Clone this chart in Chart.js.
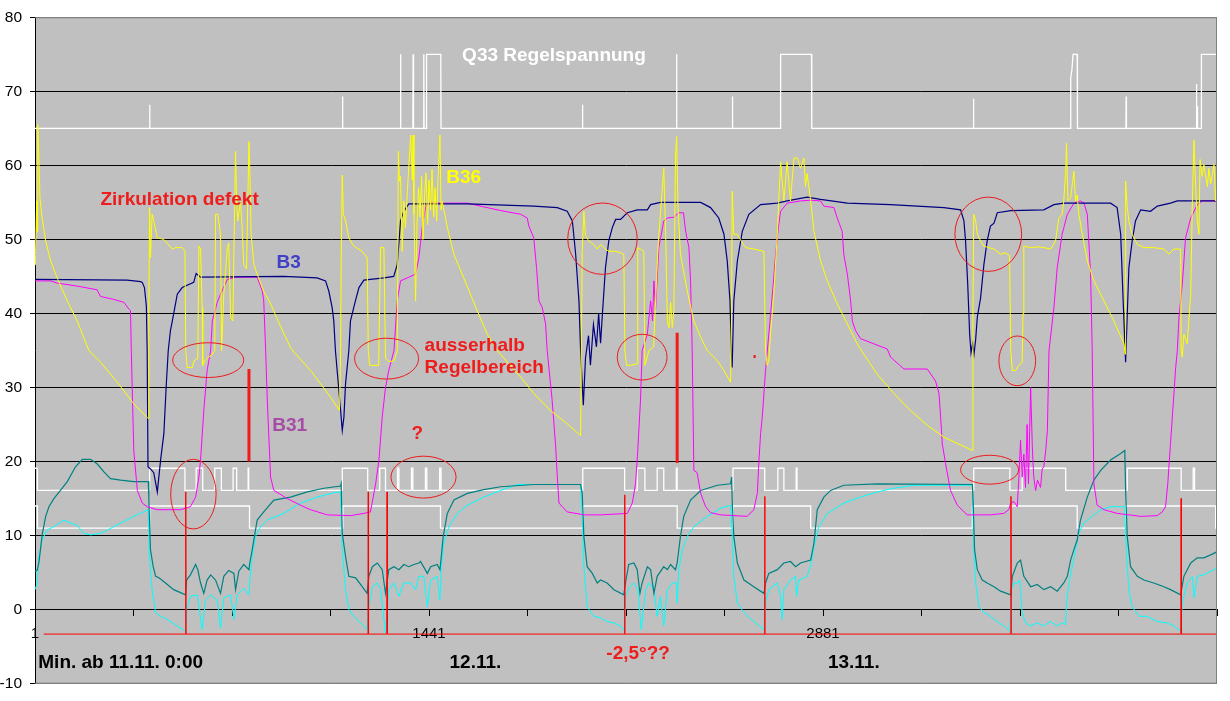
<!DOCTYPE html>
<html>
<head>
<meta charset="utf-8">
<script src="https://cdn.jsdelivr.net/npm/chart.js@4.4.1/dist/chart.umd.min.js"></script>
<style>
html,body{margin:0;padding:0;background:#fff;}
#wrap{width:1230px;height:701px;position:relative;}
</style>
</head>
<body>
<div id="wrap"><canvas id="c"></canvas></div>
<script>
// ---------- DATA (x = minutes since 11.11. 0:00, y = °C / V) ----------
const xTickValues = [1,361,721,1081,1441,1801,2161,2521,2881,3241,3601,3961,4321];
const xTickLabels = ['1','','','','1441','','','','2881','','','',''];

const q33 = [[1,65],[419,65],[420,68.2],[421,65],[1124,65],[1125,69.3],[1126,65],[1336,65],[1337,75],[1338,65],
 [1382,65],[1383,75],[1384,71],[1385,65],[1421,65],[1422,75],[1423,65],[1431,65],[1432,75],[1484,75],[1485,65],
 [2001,65],[2002,68.2],[2003,65],[2345,65],[2346,75],[2347,65],[2549,65],[2550,69.3],[2551,65],[2725,65],[2726,75],
 [2839,75],[2840,65],[3430,65],[3431,69],[3432,65],[3785,65],[3786,70],[3787,71.8],[3791,73],[3795,75],[3810,75],
 [3811,65],[3988,65],[3989,69.3],[3990,65],[4245,65],[4246,71],[4247,65],[4249,68],[4250,65],[4263,65],[4264,75],[4321,75]];

const whiteUpper = [[1,19.1],[10,16.1],[420,19.1],[549,16.1],[590,19.1],[614,16.1],[658,19.1],[682,16.1],[725,19.1],
 [738,16.1],[780,19.1],[782,16.1],[1124,19.1],[1217,16.1],[1261,19.1],[1282,16.1],[1326,19.1],[1331,16.1],[1377,19.1],
 [1382,16.1],[1428,19.1],[1433,16.1],[1480,19.1],[1485,16.1],[2003,19.1],[2156,16.1],[2202,19.1],[2230,16.1],[2275,19.1],
 [2299,16.1],[2345,19.1],[2348,16.1],[2552,19.1],[2668,16.1],[2716,19.1],[2738,16.1],[2783,19.1],[2786,16.1],[3432,19.1],
 [3564,16.1],[3609,19.1],[3768,16.1],[3993,19.1],[4190,16.1],[4234,19.1],[4239,16.1],[4321,16.1]];

const whiteLower = [[1,14],[10,11],[420,14],[785,11],[1126,14],[1483,11],[2003,14],[2348,11],[2552,14],[2836,11],
 [3427,14],[3810,11],[3987,14],[4316,11],[4321,11]];

const b3 = [[1,44.6],[338,44.5],[387,44.3],[393,44.2],[401,43.5],[408,41],[411,35],[414,19.3],[423,19],[435,18.5],[448,15.9],
 [460,20.2],[472,23.8],[481,30.5],[488,35],[496,37.7],[503,39],[521,42.6],[539,43.5],[581,44.2],[590,45.4],[606,44.9],
 [910,45],[1032,44.8],[1063,44.4],[1075,43],[1087,40.8],[1093,39],[1099,35],[1106,32],[1118,26.9],[1124,24.2],[1130,26],
 [1136,30.5],[1148,35],[1154,39],[1172,41.7],[1185,43.5],[1203,44.5],[1276,44.8],[1312,45],[1325,46.6],[1337,52.5],
 [1349,53.8],[1367,54.8],[1581,54.8],[1824,54.5],[1910,54.3],[1946,53.8],[1965,52.5],[1977,48],[1989,41.7],[1995,35],
 [2005,27.6],[2013,34],[2024,37],[2031,33],[2042,38.5],[2053,35.5],[2061,40],[2068,36],[2074,39.5],[2086,46.2],[2098,49.8],
 [2111,51.6],[2123,52.7],[2141,52.7],[2166,53.6],[2202,54],[2239,54],[2251,54.7],[2287,55],[2434,55],[2470,54.3],
 [2500,52.9],[2519,50.7],[2531,47.1],[2541,41.7],[2546,35],[2549,32.7],[2555,41.7],[2568,47.1],[2586,51.1],[2610,53.4],
 [2653,54.7],[2714,54.9],[2750,55.2],[2823,55.7],[2872,55.4],[2970,54.9],[3128,54.7],[3323,54.3],[3384,54],[3396,52.5],
 [3402,49.8],[3410,43.9],[3417,37.2],[3422,34.7],[3428,36],[3433,34.5],[3439,36.5],[3445,39.5],[3457,42.1],[3469,46.6],
 [3481,49.8],[3493,51.8],[3506,52.2],[3518,53.6],[3567,53.9],[3688,54],[3725,54.7],[3761,54.9],[3932,54.9],[3956,54.3],
 [3969,50.7],[3978,41.7],[3987,33.4],[3999,46.2],[4011,49.8],[4023,52.5],[4042,54],[4078,53.8],[4103,54.5],[4151,54.9],
 [4176,55.2],[4320,55.2]];

const b31 = [[1,44.4],[58,44.4],[82,44.1],[155,43.7],[228,43.2],[240,42.3],[289,41.9],[326,41.5],[344,40.6],[350,40.4],
 [353,35],[362,21.5],[375,16.1],[393,14.4],[411,13.9],[448,13.5],[533,13.5],[569,13.9],[588,15.2],[600,17.9],[606,20.2],
 [618,26.9],[630,32.3],[643,35],[649,39],[667,41.5],[679,42.6],[704,44.6],[734,44.9],[813,44.9],[832,43],[837,41.7],
 [844,35],[850,28.3],[862,17.9],[874,16.1],[923,15],[972,14.1],[1008,13.5],[1069,12.8],[1154,12.7],[1203,13],[1227,13.2],
 [1246,17],[1258,20.2],[1270,26],[1282,30],[1294,32.3],[1313,35],[1325,41.7],[1337,44.4],[1367,44.9],[1392,45.3],
 [1404,47.5],[1416,51.6],[1428,54.3],[1435,54.9],[1581,54.9],[1641,54.4],[1703,53.9],[1776,53.4],[1800,52.9],[1806,51.8],
 [1824,50.2],[1834,46.2],[1843,41.7],[1855,40.8],[1867,38.6],[1873,35],[1891,28.3],[1904,22],[1910,17.9],[1916,14.4],
 [1946,13.2],[2007,12.8],[2068,12.8],[2166,13],[2184,14.4],[2196,17],[2204,21.5],[2214,28.3],[2220,35],[2239,37.2],
 [2251,41.7],[2258,39],[2263,44.4],[2269,40.5],[2281,48.9],[2299,52.5],[2312,52.9],[2336,53],[2354,53.6],[2371,53.6],
 [2379,51.1],[2391,48.9],[2397,44.4],[2403,35],[2409,18.8],[2421,18.5],[2434,15.7],[2452,13.9],[2470,13.1],[2507,12.8],
 [2604,12.6],[2628,13.5],[2641,15.7],[2647,20.2],[2653,23.8],[2659,26],[2671,32.3],[2683,37.2],[2696,42.6],[2708,48],
 [2718,51.6],[2726,53.8],[2750,54.9],[2799,55.2],[2836,55.3],[2872,55.2],[2884,54.5],[2921,54.3],[2933,52.9],[2951,51.1],
 [2957,48],[2970,45.3],[2982,41.7],[2988,39],[3000,37.7],[3018,36.6],[3067,35.9],[3116,35.2],[3128,34.1],[3177,32.5],
 [3262,32.5],[3292,30.9],[3305,29.2],[3311,26],[3317,22.4],[3329,19.7],[3347,16.1],[3372,14.1],[3408,12.8],[3493,12.8],
 [3542,13],[3560,13.5],[3567,14.4],[3579,14.6],[3591,13.9],[3597,17.9],[3603,22.9],[3609,17.9],[3615,21],[3621,16.5],
 [3627,25],[3632,17],[3640,30],[3646,22],[3651,18],[3658,16.1],[3665,17.5],[3676,16.5],[3682,19],[3688,19.3],[3695,21.5],
 [3701,24.2],[3707,35],[3725,40.8],[3737,46.2],[3755,50.7],[3774,53.4],[3798,54.9],[3822,55.2],[3835,54.9],[3847,53.4],
 [3859,45.3],[3865,35],[3871,17],[3883,14.1],[3908,13.5],[3956,13],[4042,12.6],[4103,12.7],[4121,13.2],[4133,13.9],
 [4141,17],[4151,22.4],[4161,27.8],[4170,32.7],[4176,35],[4182,39.5],[4194,43.9],[4206,50.2],[4225,52.9],[4249,54.7],
 [4267,55.2],[4320,55.2]];

const b36 = [[1,46.6],[3,48],[7,55.2],[9,51],[11,65.5],[15,61.4],[19,55.6],[27,52.9],[40,49.8],[58,47.1],[82,44.8],
 [119,41.7],[155,39],[198,35],[241,33.4],[302,30.7],[362,27.8],[415,25.8],[417,40],[420,54.3],[423,47.5],[429,53.4],
 [435,52.5],[448,50.2],[472,50],[503,48.7],[515,48.9],[539,48.9],[549,48.4],[552,35],[557,32.7],[576,32.7],[582,33.6],
 [596,33.9],[600,49.1],[606,48.7],[612,40.8],[614,33],[621,33.6],[635,34.1],[650,34.5],[658,35],[661,53.4],[669,53.4],
 [679,50.7],[683,35],[691,42.6],[704,48.9],[709,49.5],[716,39.5],[724,39],[734,61.9],[738,55.2],[742,52.5],[752,55.2],
 [758,51.6],[764,46.6],[774,46],[783,63.2],[786,59.6],[791,50.7],[801,46.6],[813,45.3],[837,43],[862,41.3],[898,38.3],
 [935,35.4],[947,34.8],[1008,32.3],[1081,28.7],[1114,26.9],[1118,35],[1120,47.1],[1124,58.7],[1128,53.4],[1136,52.5],
 [1148,50.2],[1166,49.1],[1197,48.4],[1215,47.5],[1219,35],[1224,33],[1257,33],[1264,48.9],[1276,48.9],[1282,34],
 [1294,33.5],[1313,33.6],[1325,35],[1329,61.9],[1333,57.9],[1337,58.5],[1343,48.4],[1349,55.2],[1355,51.6],[1362,56.5],
 [1374,64.1],[1380,58],[1383,64.1],[1386,53.4],[1392,41.7],[1397,52],[1403,57],[1408,53],[1414,58.5],[1419,50],
 [1425,56],[1430,59],[1436,52],[1441,58],[1447,54],[1452,59.5],[1458,53],[1463,57],[1469,52.5],[1474,58],[1481,64.1],
 [1485,54],[1489,55.2],[1508,51.6],[1532,48],[1568,44.8],[1617,40.4],[1654,37.2],[1690,35],[1776,31.4],[1824,29.2],
 [1885,26.9],[1946,25.1],[1995,23.5],[2001,48.4],[2007,53.8],[2013,50.5],[2025,49.8],[2043,49.3],[2056,48.7],[2068,49.3],
 [2080,48.9],[2098,48.4],[2123,48.4],[2141,48.2],[2153,48],[2157,35],[2163,33],[2178,33],[2202,33.2],[2204,48.9],
 [2214,48.7],[2226,48.4],[2230,33],[2245,35],[2262,35.5],[2275,46.6],[2281,50.7],[2294,57],[2299,59.6],[2306,50.7],
 [2312,39],[2318,38.1],[2324,41.5],[2330,38.1],[2336,40.5],[2342,61.4],[2346,63.9],[2351,54.3],[2360,48],[2385,43],
 [2409,39],[2434,36.8],[2458,35],[2495,33.6],[2519,32.3],[2543,30.7],[2547,40],[2549,56.5],[2555,50.7],[2568,50.7],
 [2580,49.9],[2598,48.9],[2628,48.7],[2665,48.4],[2671,35],[2677,33],[2683,33.6],[2689,37.2],[2701,42.6],[2714,50.7],
 [2726,60.5],[2738,55.2],[2750,60.5],[2762,55.2],[2775,61],[2787,61],[2799,59.6],[2811,61],[2817,57.1],[2823,58.9],
 [2836,55.2],[2848,51.1],[2872,47.1],[2897,44.4],[2933,41.3],[2970,38.6],[3006,35.9],[3030,34.5],[3079,31.8],[3140,29.2],
 [3201,26.9],[3262,24.9],[3323,23.3],[3427,21.5],[3429,40],[3432,53.4],[3439,52.5],[3445,50.7],[3457,49.8],[3469,49.1],
 [3487,48.9],[3506,48.7],[3530,48],[3548,48.2],[3563,47.8],[3567,35],[3573,32.3],[3585,32.3],[3597,33],[3609,33.4],
 [3612,40],[3615,49.1],[3640,48.9],[3664,49],[3688,48.9],[3713,48.7],[3731,49.8],[3743,52.9],[3755,53.4],[3761,55.2],
 [3768,59.2],[3771,63],[3776,55.2],[3786,55.6],[3798,59.2],[3804,55.2],[3810,56],[3816,53.4],[3829,50.7],[3847,47.1],
 [3871,44.4],[3908,41.7],[3944,39],[3981,35.9],[3985,34.5],[3987,57.9],[3993,54.3],[3999,52.5],[4011,50.7],[4030,49.3],
 [4054,48.9],[4090,48.9],[4127,48.7],[4145,48],[4163,48.7],[4188,48.7],[4190,35],[4194,34.1],[4200,37.2],[4212,35.9],
 [4225,42.6],[4231,55.2],[4237,63.4],[4243,57.1],[4249,52.5],[4255,50.7],[4259,60.8],[4267,58.5],[4273,60.1],[4286,57.1],
 [4291,59.6],[4298,57.5],[4310,60.1],[4316,55.2],[4320,57.9]];

const tealSeries = [[1,5.2],[9,5.3],[15,6.3],[21,8.1],[27,10.1],[40,12.6],[52,13.9],[70,15],[94,16.1],[119,17.3],[149,19.3],
 [174,20.3],[204,20.3],[228,19.7],[253,18.6],[277,17.7],[314,17.5],[362,17.3],[415,17.3],[417,15],[423,8.1],[433,5.8],
 [442,4.5],[454,4.3],[478,3.6],[508,2.7],[551,2],[555,4],[569,4.7],[588,6.1],[596,5.4],[606,3.6],[618,2.2],[630,4],
 [643,4.7],[661,4],[679,2.2],[691,4.5],[709,5.3],[728,4.9],[734,2.7],[746,5.2],[764,6.1],[783,5.4],[786,6.3],[795,8.1],
 [803,9.9],[813,12.1],[837,13.2],[874,14.8],[935,15.2],[996,15.9],[1057,16.4],[1118,16.7],[1120,17],[1124,10.3],
 [1136,7.2],[1148,4.5],[1173,4.3],[1197,3.1],[1215,2.2],[1221,4.5],[1234,5.8],[1252,6.3],[1270,5.4],[1282,2.2],[1294,5.4],
 [1313,5.8],[1331,5.4],[1349,6.1],[1367,5.8],[1386,6.1],[1404,6.3],[1410,6.5],[1435,4.9],[1447,5.8],[1471,6.1],[1481,5.4],
 [1486,7.2],[1493,9.9],[1508,13],[1532,14.8],[1581,15.7],[1641,16.2],[1703,16.6],[1824,16.9],[1995,16.9],[2001,15.7],
 [2007,9.9],[2019,5.8],[2038,4.9],[2056,3.6],[2068,4],[2092,3.6],[2117,2.7],[2153,2],[2159,3.6],[2171,6.1],[2190,6.3],
 [2202,5.4],[2212,2.2],[2220,3.6],[2239,5.8],[2251,5.4],[2263,2.2],[2275,4.5],[2299,5.8],[2312,5.4],[2324,6.1],[2342,5.4],
 [2348,6.3],[2360,9.9],[2372,12.6],[2397,14.8],[2434,16.1],[2495,16.8],[2543,17],[2547,17.9],[2549,14.8],[2555,9.9],
 [2568,6.3],[2592,4],[2628,3.1],[2665,2.2],[2671,3.6],[2683,4.9],[2714,5.4],[2738,6.3],[2762,6.5],[2781,5.8],[2799,6.3],
 [2836,6.7],[2848,9],[2860,13.5],[2884,15.2],[2909,16.1],[2957,16.8],[3079,17],[3427,16.9],[3430,14.3],[3435,8.1],
 [3445,5.4],[3463,4],[3481,3.6],[3506,3.1],[3530,2.5],[3567,2],[3573,4.5],[3591,6.3],[3603,6.7],[3615,4.5],[3640,3.1],
 [3664,3.4],[3688,2.7],[3713,3.1],[3737,2.5],[3761,3.6],[3774,4.5],[3786,6.7],[3798,8.1],[3810,9.4],[3822,12.1],
 [3847,15.2],[3871,17.5],[3896,18.8],[3932,20.2],[3969,21.1],[3984,21.5],[3987,16.1],[3993,9.9],[4005,5.8],[4030,4.5],
 [4054,4],[4090,3.6],[4127,3.1],[4151,2.7],[4188,2],[4200,4.5],[4225,6.3],[4249,7],[4273,7],[4298,7.4],[4320,7.8]];

const cyanSeries = [[1,2.7],[9,3.6],[15,7.2],[27,9.4],[46,10.8],[70,11.2],[106,12.1],[131,11.7],[155,11.4],[179,10.3],
 [204,10.1],[240,10.3],[289,11.2],[362,12.6],[415,13.5],[418,8],[429,2.7],[442,-0.4],[460,-0.9],[484,-1.3],[521,-2.2],
 [551,-2.9],[555,0],[569,1.8],[594,2],[612,-2.7],[624,1.3],[643,2],[667,1.3],[679,-2.5],[691,1.6],[716,2],[728,-1.3],
 [740,2],[764,2.9],[783,2],[786,4],[795,7.2],[807,9.9],[825,11.2],[850,12.1],[910,13],[972,14.4],[1032,15.2],[1093,15.8],
 [1118,15.9],[1124,8.1],[1136,2.7],[1148,0],[1166,-0.9],[1191,-1.8],[1215,-2.7],[1221,0.4],[1234,3.1],[1252,3.6],
 [1264,2.7],[1282,-3.1],[1294,2.7],[1313,3.6],[1331,1.8],[1349,3.6],[1374,3.6],[1392,2.7],[1404,4.5],[1422,4.5],
 [1435,0.4],[1447,4],[1471,4.5],[1481,1.3],[1486,5.8],[1495,9],[1514,11.2],[1544,13],[1581,14.1],[1641,15.2],[1703,16.1],
 [1764,16.9],[1995,16.9],[2001,12.6],[2007,5.8],[2019,0.4],[2043,-0.9],[2068,-1.1],[2092,-1.6],[2117,-1.8],[2141,-2.2],
 [2156,-2.9],[2159,1.8],[2171,2.9],[2190,3.6],[2204,2.7],[2217,-2.7],[2233,2.7],[2245,3.6],[2263,2.7],[2275,-0.9],
 [2287,1.8],[2299,-2.2],[2312,2.7],[2330,3.6],[2346,3.6],[2348,0.9],[2354,5.4],[2367,8.1],[2385,9.9],[2409,11.2],
 [2458,12.6],[2507,13.7],[2543,14.1],[2549,10.3],[2555,4.5],[2568,0.9],[2592,-0.4],[2628,-1.6],[2665,-2.7],[2671,0.9],
 [2683,2.7],[2714,3.6],[2726,1.8],[2732,-1.3],[2738,2.7],[2762,4],[2781,4.5],[2784,1.8],[2793,4],[2823,4.5],[2838,6.3],
 [2848,8.5],[2866,11.2],[2897,13],[2957,14.4],[3018,15.2],[3079,15.9],[3140,16.4],[3213,16.8],[3427,16.8],[3432,8.1],
 [3439,3.6],[3451,0.4],[3469,-0.4],[3493,-0.9],[3518,-1.6],[3542,-2.2],[3564,-2.9],[3569,2.7],[3579,3.6],[3593,3.6],
 [3600,4],[3609,-0.4],[3621,-1.8],[3640,-2.2],[3664,-1.8],[3688,-2.2],[3713,-1.6],[3737,-2.2],[3755,-1.8],[3768,-2],
 [3771,0.9],[3780,3.6],[3792,5.8],[3804,8.1],[3816,10.3],[3834,11.7],[3871,12.8],[3896,13.5],[3932,13.9],[3984,13.9],
 [3987,10.3],[3993,5.8],[3999,2.7],[4011,0.4],[4036,-0.9],[4066,-0.9],[4103,-1.6],[4139,-1.8],[4163,-2.2],[4188,-2.9],
 [4194,0.9],[4212,3.6],[4231,4.5],[4237,1.6],[4249,4.5],[4273,4.7],[4298,5.2],[4320,5.6]];

const valveSignal = [[33,-3.3],[551,-3.3],[552,15.9],[553,-3.3],[1218,-3.3],[1219,15.9],[1220,-3.3],[1287,-3.3],
 [1288,15.9],[1289,-3.3],[2155,-3.3],[2156,15.5],[2157,-3.3],[2667,-3.3],[2668,15.3],[2669,-3.3],[3567,-3.3],
 [3568,15.3],[3569,-3.3],[4189,-3.3],[4190,15.0],[4191,-3.3],[4321,-3.3]];

// annotation marks (data units)
const markBar1 = [[783,32.5],[783,20]];
const markBar2 = [[2348,37.4],[2348,19.8]];
const markDot = [[2627,34.2],[2635,34.2]];
// ellipses: [centre minute, centre value, radius minutes, radius value]
const ellipses = [[634,33.7,130,2.35],[1286,33.9,117,2.76],[580,15.6,83,4.7],[1421,17.9,119,2.83],
 [2075,50.1,127,4.82],[2220,34.1,91,3.09],[3485,50.7,122,5.02],[3591,33.6,67,3.36],[3490,18.9,106,1.95]];
// text labels: [text, minute (left edge), value (middle), colour]
const notes = [
 ['Q33 Regelspannung',1562,74.8,'#FFFFFF'],
 ['Zirkulation defekt',240,55.4,'#EE1C1C'],
 ['B3',884,46.9,'#4040C8'],
 ['B36',1504,58.3,'#FFFF00'],
 ['B31',868,24.9,'#A64CA6'],
 ['ausserhalb',1425,35.65,'#EE1C1C'],
 ['Regelbereich',1425,32.7,'#EE1C1C'],
 ['?',1377,23.8,'#EE1C1C'],
 ['-2,5°??',2089,-5.9,'#EE1C1C'],
 ['Min. ab 11.11. 0:00',13,-7.15,'#000000'],
 ['12.11.',1516,-7.15,'#000000'],
 ['13.11.',2899,-7.15,'#000000']
];

// ---------- CHART ----------
const pts = a => a.map(([x,y]) => ({x, y}));
const FONT = 'Liberation Sans, Arial, Helvetica, sans-serif';

const line = (data, color, width, order, extra) => Object.assign({
  data: pts(data), borderColor: color, borderWidth: width, pointRadius: 0,
  tension: 0, fill: false, order
}, extra || {});

const plotDeco = {
  id: 'plotDeco',
  beforeDraw(chart) {
    const {ctx, chartArea: a} = chart;
    ctx.save();
    ctx.fillStyle = '#C0C0C0';
    ctx.fillRect(a.left, a.top, a.right - a.left, a.bottom - a.top);
    ctx.restore();
  },
  afterDatasetsDraw(chart) {
    const {ctx, chartArea: a} = chart;
    const xs = chart.scales.x, ys = chart.scales.y;
    ctx.save();
    ctx.strokeStyle = '#808080';
    ctx.lineWidth = 1;
    ctx.beginPath();
    ctx.moveTo(a.left, a.top + 0.5);
    ctx.lineTo(a.right - 0.5, a.top + 0.5);
    ctx.lineTo(a.right - 0.5, a.bottom - 0.5);
    ctx.lineTo(a.left, a.bottom - 0.5);
    ctx.stroke();
    ctx.strokeStyle = '#EE1C1C';
    ctx.lineWidth = 1;
    ellipses.forEach(([cx, cy, rx, ry]) => {
      const px = xs.getPixelForValue(cx), py = ys.getPixelForValue(cy);
      const rpx = Math.abs(xs.getPixelForValue(cx + rx) - px);
      const rpy = Math.abs(ys.getPixelForValue(cy + ry) - py);
      ctx.beginPath();
      ctx.ellipse(px, py, rpx, rpy, 0, 0, Math.PI * 2);
      ctx.stroke();
    });
    ctx.textBaseline = 'middle';
    ctx.textAlign = 'left';
    ctx.font = 'bold 19px ' + FONT;
    notes.forEach(([t, mx, v, c]) => {
      ctx.fillStyle = c;
      ctx.fillText(t, xs.getPixelForValue(mx), ys.getPixelForValue(v));
    });
    ctx.restore();
  }
};

new Chart(document.getElementById('c'), {
  type: 'line',
  data: {
    datasets: [
      line(valveSignal, '#FF0000', 1, 0),
      line(markBar1, '#EE1C1C', 3, 0),
      line(markBar2, '#EE1C1C', 3, 0),
      line(markDot, '#EE1C1C', 3, 0),
      line(b36, '#FFFF00', 1, 1),
      line(b3, '#000080', 1.2, 2),
      line(b31, '#FF00FF', 1, 3),
      line(tealSeries, '#008080', 1.2, 4),
      line(cyanSeries, '#00FFFF', 1, 5),
      line(q33, '#FFFFFF', 1.3, 6),
      line(whiteUpper, '#FFFFFF', 1.3, 7, {stepped: 'before'}),
      line(whiteLower, '#FFFFFF', 1.3, 8, {stepped: 'before'})
    ]
  },
  options: {
    responsive: true,
    maintainAspectRatio: false,
    animation: false,
    devicePixelRatio: 1,
    events: [],
    layout: { padding: { top: 14, right: 13, bottom: 17, left: 0 } },
    plugins: { legend: { display: false }, tooltip: { enabled: false }, title: { display: false } },
    scales: {
      x: {
        type: 'linear',
        min: 1, max: 4321,
        position: { y: 0 },
        afterFit(scale) { scale.height = 0; },
        afterBuildTicks(scale) { scale.ticks = xTickValues.map(v => ({ value: v })); },
        ticks: {
          autoSkip: false, maxRotation: 0, minRotation: 0, padding: 9,
          color: '#000', font: { size: 15, family: FONT },
          callback: (v, i) => xTickLabels[i] || ''
        },
        grid: { drawOnChartArea: false, drawTicks: true, tickLength: 6, color: '#000' },
        border: { display: true, color: '#000', width: 1 }
      },
      y: {
        type: 'linear',
        min: -10, max: 80,
        afterFit(scale) { scale.width = 35; },
        ticks: { stepSize: 10, padding: 8, color: '#000', font: { size: 15.5, family: FONT } },
        grid: {
          color: c => (c.tick && (c.tick.value === 80 || c.tick.value === -10)) ? '#808080' : '#000000',
          tickColor: '#000000', tickLength: 5, lineWidth: 1
        },
        border: { display: true, color: '#000', width: 1 }
      }
    }
  },
  plugins: [plotDeco]
});
</script>
</body>
</html>
